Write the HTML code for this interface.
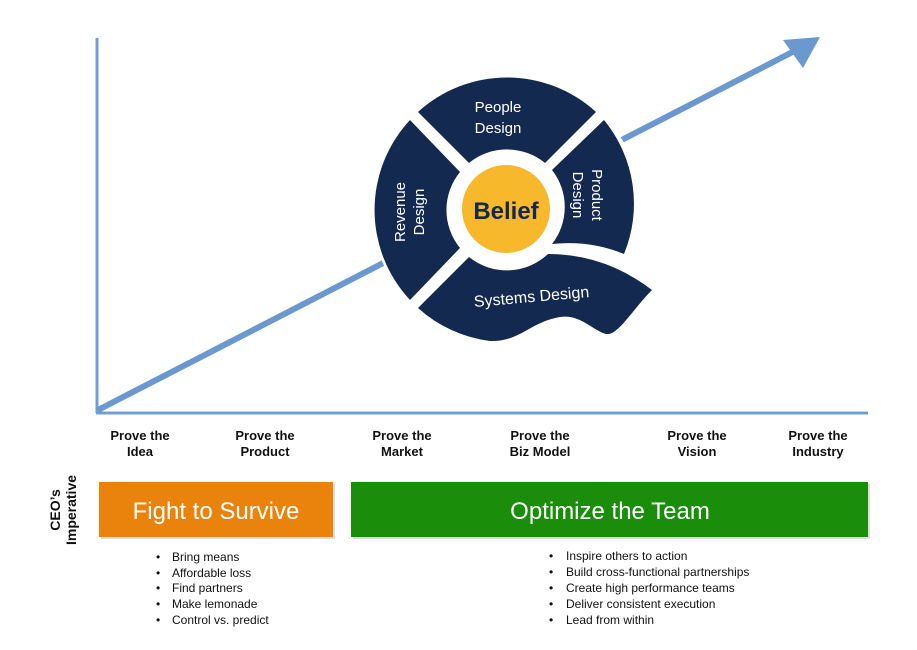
<!DOCTYPE html>
<html><head><meta charset="utf-8"><style>
body{margin:0;background:#fff;width:917px;height:645px;overflow:hidden;font-family:"Liberation Sans",sans-serif}
</style></head><body>
<svg width="917" height="645" viewBox="0 0 917 645" xmlns="http://www.w3.org/2000/svg" font-family="Liberation Sans, sans-serif">
<line x1="97" y1="38" x2="97" y2="413" stroke="#6f9fd6" stroke-width="3"/>
<line x1="96" y1="413" x2="868" y2="413" stroke="#6f9fd6" stroke-width="3"/>
<line x1="98" y1="410" x2="808" y2="44" stroke="#6a98cf" stroke-width="6"/>
<path d="M783,40 L820,37 L803,68 Z" fill="#6a98cf"/>
<circle cx="507" cy="210" r="135" fill="#fff"/>
<g fill="#13294f">
<path d="M418,112 A132 132 0 0 1 596,112 L545,163 A60 60 0 0 0 469,163 Z"/>
<path d="M410,120 A132 132 0 0 0 410,300 L460,248 A60 60 0 0 1 460,172 Z"/>
<path d="M604,120 A132 132 0 0 1 624,254 Q590,240 552,244 A60 60 0 0 0 552,170 Z"/>
<path d="M469,257 A60 60 0 0 0 548,254 Q605,254 652,290 C632,310 618,336 606,334 C592,330 580,314 560,317 C530,322 520,342 490,341 A132 132 0 0 1 418,308 Z"/>
</g>
<circle cx="506" cy="209" r="44" fill="#f7b82c"/>
<text x="506" y="219" text-anchor="middle" font-size="24" font-weight="bold" fill="#13294f">Belief</text>
<text x="498" y="112" text-anchor="middle" font-size="15" fill="#fff">People</text>
<text x="498" y="133" text-anchor="middle" font-size="15" fill="#fff">Design</text>
<g transform="translate(405,212) rotate(-90)"><text x="0" y="0" text-anchor="middle" font-size="15" fill="#fff">Revenue</text><text x="0" y="19" text-anchor="middle" font-size="15" fill="#fff">Design</text></g>
<g transform="translate(592,195) rotate(90)"><text x="0" y="0" text-anchor="middle" font-size="15" fill="#fff">Product</text><text x="0" y="19" text-anchor="middle" font-size="15" fill="#fff">Design</text></g>
<text x="532" y="302" text-anchor="middle" font-size="16" fill="#fff" transform="rotate(-5 532 302)">Systems Design</text>
<g font-size="13" font-weight="bold" fill="#111" text-anchor="middle">
<text x="140" y="440">Prove the</text><text x="140" y="456">Idea</text>
<text x="265" y="440">Prove the</text><text x="265" y="456">Product</text>
<text x="402" y="440">Prove the</text><text x="402" y="456">Market</text>
<text x="540" y="440">Prove the</text><text x="540" y="456">Biz Model</text>
<text x="697" y="440">Prove the</text><text x="697" y="456">Vision</text>
<text x="818" y="440">Prove the</text><text x="818" y="456">Industry</text>
</g>
<g transform="translate(60,510) rotate(-90)" font-size="14" font-weight="bold" fill="#111" text-anchor="middle">
<text x="0" y="0">CEO’s</text><text x="0" y="16">Imperative</text>
</g>
<rect x="101" y="484" width="234" height="55" fill="#bbb" opacity="0.5"/>
<rect x="99" y="482" width="234" height="55" fill="#ea830b"/>
<text x="216" y="519" text-anchor="middle" font-size="24" fill="#fff">Fight to Survive</text>
<rect x="353" y="484" width="517" height="55" fill="#bbb" opacity="0.5"/>
<rect x="351" y="482" width="517" height="55" fill="#1a8e0b"/>
<text x="610" y="519" text-anchor="middle" font-size="24" fill="#fff">Optimize the Team</text>
<g font-size="12" fill="#111">
<text x="156" y="561">•</text><text x="172" y="561">Bring means</text>
<text x="156" y="577">•</text><text x="172" y="577">Affordable loss</text>
<text x="156" y="592">•</text><text x="172" y="592">Find partners</text>
<text x="156" y="608">•</text><text x="172" y="608">Make lemonade</text>
<text x="156" y="624">•</text><text x="172" y="624">Control vs. predict</text>
<text x="549" y="560">•</text><text x="566" y="560">Inspire others to action</text>
<text x="549" y="576">•</text><text x="566" y="576">Build cross-functional partnerships</text>
<text x="549" y="592">•</text><text x="566" y="592">Create high performance teams</text>
<text x="549" y="608">•</text><text x="566" y="608">Deliver consistent execution</text>
<text x="549" y="624">•</text><text x="566" y="624">Lead from within</text>
</g>
</svg>
</body></html>
